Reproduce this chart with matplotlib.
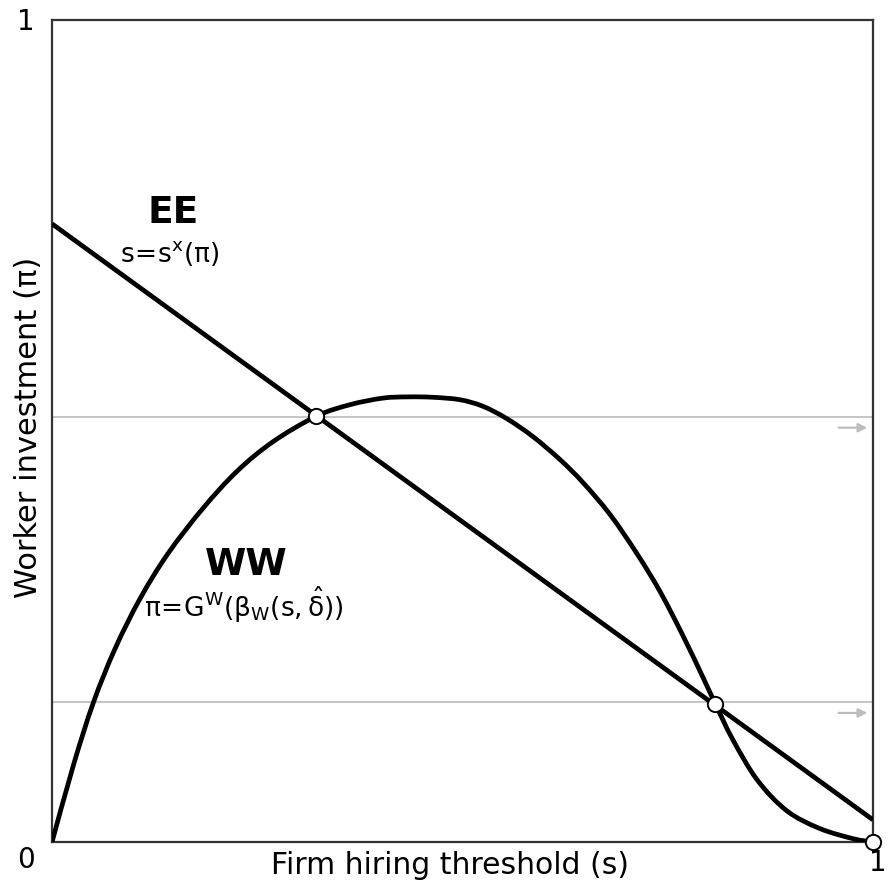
import matplotlib
matplotlib.use("Agg")
import matplotlib.pyplot as plt
from matplotlib.path import Path
from matplotlib.patches import PathPatch

plt.rcParams['font.family'] = ['DejaVu Sans']
plt.rcParams['mathtext.fontset'] = 'dejavusans'

# EE line: s = s*(pi), straight line from left edge to right edge
ee_s = [0.0, 1.0]
ee_pi = [0.752, 0.027]

# WW curve: pi = G^W(beta_W(s, delta_hat))
ww_s = [0.0, 0.0262, 0.0505, 0.0767, 0.1072, 0.1413, 0.1839, 0.2253, 0.2692,
        0.322, 0.363, 0.403, 0.434, 0.464, 0.497, 0.525, 0.554, 0.586, 0.619,
        0.647, 0.680, 0.713, 0.741, 0.769, 0.793, 0.808, 0.829, 0.859, 0.895,
        0.935, 0.976, 1.0]
ww_pi = [0.0, 0.094, 0.170, 0.235, 0.296, 0.351, 0.406, 0.451, 0.487,
         0.518, 0.532, 0.540, 0.5415, 0.541, 0.538, 0.530, 0.515, 0.493, 0.465,
         0.437, 0.398, 0.350, 0.304, 0.250, 0.200, 0.168, 0.125, 0.0755, 0.038,
         0.0165, 0.004, 0.0]

# equilibria (intersections)
eq_s = [0.322, 0.808, 1.0]
eq_pi = [0.518, 0.168, 0.0]


def smooth_path(xs, ys):
    # cubic bezier segments through the points (catmull-rom tangents)
    pts = list(zip(xs, ys))
    verts = [pts[0]]
    codes = [Path.MOVETO]
    n = len(pts)
    for i in range(n - 1):
        p0 = pts[max(i - 1, 0)]
        p1 = pts[i]
        p2 = pts[i + 1]
        p3 = pts[min(i + 2, n - 1)]
        c1 = (p1[0] + (p2[0] - p0[0]) / 6, p1[1] + (p2[1] - p0[1]) / 6)
        c2 = (p2[0] - (p3[0] - p1[0]) / 6, p2[1] - (p3[1] - p1[1]) / 6)
        verts += [c1, c2, p2]
        codes += [Path.CURVE4] * 3
    return Path(verts, codes)


fig = plt.figure(figsize=(8.88, 8.84), dpi=100)
ax = fig.add_axes([0.0586, 0.0475, 0.9245, 0.9299])
ax.set_xlim(0, 1)
ax.set_ylim(0, 1)
ax.set_xticks([])
ax.set_yticks([])
for sp in ax.spines.values():
    sp.set_color('#333333')
    sp.set_linewidth(1.6)

# horizontal guides through the interior equilibria + little arrows
for p in [0.517, 0.170]:
    ax.axhline(p, color='#c0c0c0', lw=1.3, zorder=1)
    ax.annotate('', xy=(0.993, p - 0.013), xytext=(0.958, p - 0.013),
                arrowprops=dict(arrowstyle='-|>', color='#bdbdbd', lw=1.6,
                                mutation_scale=13, shrinkA=0, shrinkB=0))

ax.plot(ee_s, ee_pi, color='black', lw=3.4, solid_capstyle='butt', zorder=3)
ax.add_patch(PathPatch(smooth_path(ww_s, ww_pi), fc='none', ec='black',
                       lw=3.4, capstyle='round', zorder=3))
ax.plot(eq_s, eq_pi, 'o', ms=11, mfc='white', mec='black', mew=1.4,
        zorder=5, clip_on=False)

# curve labels
ax.text(0.147, 0.765, 'EE', fontsize=27, fontweight='bold', ha='center', va='center')
ax.text(0.143, 0.716, r'$\mathregular{s\!=\!s^{x}(\pi)}$', fontsize=19,
        ha='center', va='center')
ax.text(0.236, 0.337, 'WW', fontsize=27, fontweight='bold', ha='center', va='center')
ax.text(0.234, 0.288, r'$\mathregular{\pi\!=\!G^{W}(\beta_{W}(s,\hat{\delta}))}$',
        fontsize=19, ha='center', va='center')

# corner tick labels
ax.text(-0.021, 0.998, '1', fontsize=20, ha='right', va='center', transform=ax.transAxes)
ax.text(-0.021, -0.022, '0', fontsize=20, ha='right', va='center', transform=ax.transAxes)
ax.text(1.017, -0.025, '1', fontsize=20, ha='right', va='center', transform=ax.transAxes)

ax.text(0.485, -0.029, 'Firm hiring threshold (s)', fontsize=21.5, ha='center',
        va='center', transform=ax.transAxes)
ax.text(-0.029, 0.505, 'Worker investment (π)', fontsize=22, ha='center',
        va='center', rotation=90, transform=ax.transAxes)

fig.savefig('out.png', dpi=100)
